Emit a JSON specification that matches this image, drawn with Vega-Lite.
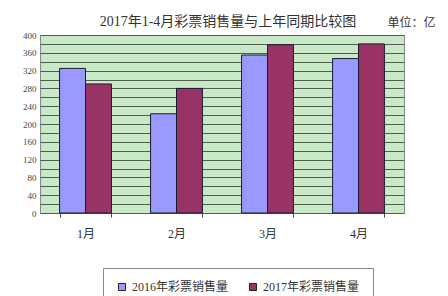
{
  "$schema": "https://vega.github.io/schema/vega-lite/v6.json",
  "width": 364,
  "height": 178,
  "autosize": "none",
  "padding": {"left": 40, "top": 35, "right": 44, "bottom": 83},
  "background": "white",
  "title": {
    "text": "2017年1-4月彩票销售量与上年同期比较图",
    "font": "Liberation Serif, Noto Sans CJK SC",
    "fontSize": 14,
    "fontWeight": "normal",
    "color": "#333333",
    "anchor": "middle",
    "dx": 6,
    "offset": -13
  },
  "config": {
    "view": {"fill": "#c8e8c8", "stroke": "#888888", "strokeWidth": 1}
  },
  "data": {
    "values": [
      {"month": "1月", "series": "2016年彩票销售量", "value": 325},
      {"month": "1月", "series": "2017年彩票销售量", "value": 290},
      {"month": "2月", "series": "2016年彩票销售量", "value": 223},
      {"month": "2月", "series": "2017年彩票销售量", "value": 280},
      {"month": "3月", "series": "2016年彩票销售量", "value": 355},
      {"month": "3月", "series": "2017年彩票销售量", "value": 378},
      {"month": "4月", "series": "2016年彩票销售量", "value": 347},
      {"month": "4月", "series": "2017年彩票销售量", "value": 380}
    ]
  },
  "mark": {"type": "bar", "stroke": "#1a1a2e", "strokeWidth": 1},
  "encoding": {
    "x": {
      "field": "month",
      "type": "nominal",
      "sort": null,
      "scale": {"paddingInner": 0.43, "paddingOuter": 0.215},
      "axis": {
        "title": null,
        "labelAngle": 0,
        "labelFont": "Liberation Serif, Noto Sans CJK SC",
        "labelFontSize": 12,
        "labelColor": "#333333",
        "domain": false,
        "ticks": true,
        "tickBand": "extent",
        "tickSize": 4,
        "tickColor": "#444444",
        "labelPadding": 11
      }
    },
    "xOffset": {
      "field": "series",
      "type": "nominal",
      "scale": {"paddingInner": 0, "paddingOuter": 0}
    },
    "y": {
      "field": "value",
      "type": "quantitative",
      "scale": {"domain": [0, 400]},
      "axis": {
        "values": [0, 20, 40, 60, 80, 100, 120, 140, 160, 180, 200, 220, 240, 260, 280, 300, 320, 340, 360, 380, 400],
        "labelFont": "Liberation Serif",
        "labelFontSize": 9,
        "labelColor": "#444444",
        "ticks": false,
        "domain": false,
        "labelPadding": 4,
        "grid": true,
        "gridColor": "#4f5f4f",
        "gridWidth": 1,
        "gridOpacity": 1,
        "title": "单位：亿",
        "titleAngle": 0,
        "titleX": 347,
        "titleY": -13,
        "titleAlign": "left",
        "titleBaseline": "middle",
        "titleFont": "Liberation Serif, Noto Sans CJK SC",
        "titleFontSize": 12,
        "titleFontWeight": "normal",
        "titleColor": "#333333"
      }
    },
    "color": {
      "field": "series",
      "type": "nominal",
      "scale": {"range": ["#9999ff", "#993366"]},
      "legend": {
        "title": null,
        "orient": "none",
        "legendX": 63,
        "legendY": 233,
        "direction": "horizontal",
        "strokeColor": "#888888",
        "fillColor": "white",
        "padding": 13,
        "symbolType": "square",
        "symbolSize": 50,
        "symbolStrokeColor": "#222222",
        "symbolStrokeWidth": 1,
        "labelFont": "Liberation Serif, Noto Sans CJK SC",
        "labelFontSize": 12,
        "labelColor": "#333333",
        "labelLimit": 200,
        "columnPadding": 18
      }
    }
  }
}
